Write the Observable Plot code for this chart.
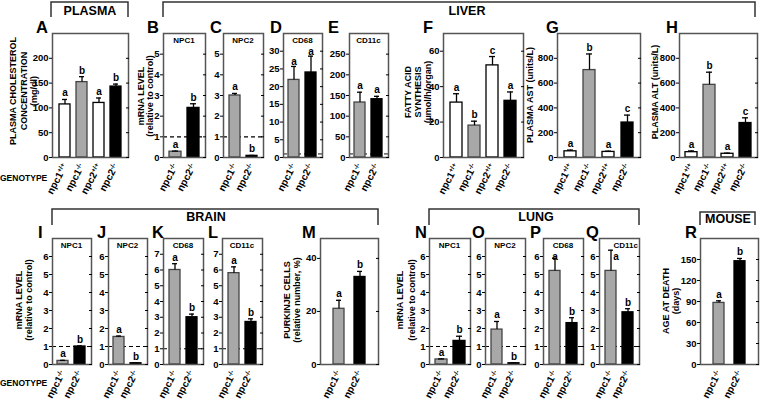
<!DOCTYPE html>
<html><head><meta charset="utf-8">
<script src="https://cdn.jsdelivr.net/npm/d3@7"></script>
<script src="https://cdn.jsdelivr.net/npm/@observablehq/plot@0.6"></script>
<style>
html,body{margin:0;padding:0;background:#fff;}
#chart{position:relative;width:760px;height:401px;overflow:hidden;font-family:"Liberation Sans",Arial,sans-serif;}
#chart svg.panel{position:absolute;overflow:visible;}
#overlay{position:absolute;left:0;top:0;overflow:visible;}
</style></head><body><div id="chart"></div>
<script>
// ---------- data ----------
const catsWT = ["npc1 +/+", "npc1 -/-", "npc2 +/+", "npc2 -/-"];
const catsKO = ["npc1 -/-", "npc2 -/-"];

const cholVals = [107, 152, 110, 143], cholErr = [10, 11, 10, 5], cholSig = ["a", "b", "a", "b"];
const livNpc1Vals = [0.28, 2.4], livNpc1Err = [0.03, 0.2], livNpc1Sig = ["a", "b"];
const livNpc2Vals = [3.0, 0.08], livNpc2Err = [0.1, 0.02], livNpc2Sig = ["a", "b"];
const livCd68Vals = [21.9, 24.0], livCd68Err = [3.8, 4.6], livCd68Sig = ["a", "a"];
const livCd11cVals = [133, 141], livCd11cErr = [25, 7], livCd11cSig = ["a", "a"];
const fasVals = [31, 18, 52, 32], fasErr = [5, 2.5, 5, 5], fasSig = ["a", "b", "c", "a"];
const astVals = [50, 705, 45, 282], astErr = [10, 130, 6, 60], astSig = ["a", "b", "a", "c"];
const altVals = [43, 586, 30, 278], altErr = [10, 102, 5, 42], altSig = ["a", "b", "a", "c"];
const brNpc1Vals = [0.2, 1.0], brNpc1Err = [0.03, 0.03], brNpc1Sig = ["a", "b"];
const brNpc2Vals = [1.53, 0.07], brNpc2Err = [0.05, 0.02], brNpc2Sig = ["a", "b"];
const brCd68Vals = [6.0, 3.0], brCd68Err = [0.4, 0.2], brCd68Sig = ["a", "b"];
const brCd11cVals = [5.8, 2.7], brCd11cErr = [0.4, 0.2], brCd11cSig = ["a", "b"];
const purkVals = [21, 33], purkErr = [3.2, 2.1], purkSig = ["a", "b"];
const luNpc1Vals = [0.28, 1.31], luNpc1Err = [0.03, 0.26], luNpc1Sig = ["a", "b"];
const luNpc2Vals = [1.94, 0.07], luNpc2Err = [0.45, 0.02], luNpc2Sig = ["a", "b"];
const luCd68Vals = [5.2, 2.3], luCd68Err = [0.7, 0.3], luCd68Sig = ["a", "b"];
const luCd11cVals = [5.2, 2.9], luCd11cErr = [1.15, 0.2], luCd11cSig = ["a", "b"];
const ageVals = [88, 147.5], ageErr = [3, 4], ageSig = ["a", "b"];

const ticksChol = [0, 50, 100, 150, 200];
const ticks0to5 = [0, 1, 2, 3, 4, 5];
const ticks0to6 = [0, 1, 2, 3, 4, 5, 6];
const ticks0to7 = [0, 1, 2, 3, 4, 5, 6, 7];
const ticksCd68 = [0, 5, 10, 15, 20, 25, 30];
const ticksCd11c = [0, 50, 100, 150, 200, 250];
const ticksFas = [0, 20, 40, 60];
const ticksEnz = [0, 200, 400, 600, 800];
const ticksPurk = [0, 20, 40];
const ticksAge = [0, 30, 60, 90, 120, 150];

// ---------- layout ----------
const FILL = {"npc1 +/+": "#ffffff", "npc1 -/-": "#a8a8a8", "npc2 +/+": "#ffffff", "npc2 -/-": "#000000"};
const TOP = [33, 157], BOT = [238, 364];

const panels = [
  {x: [52, 128], y: TOP, cats: catsWT, v: cholVals, e: cholErr, s: cholSig, domain: [0, 250], ticks: ticksChol},
  {x: [163, 205], y: TOP, cats: catsKO, v: livNpc1Vals, e: livNpc1Err, s: livNpc1Sig, domain: [0, 6], ticks: ticks0to5, ref: 1, gene: "NPC1"},
  {x: [223, 263], y: TOP, cats: catsKO, v: livNpc2Vals, e: livNpc2Err, s: livNpc2Sig, domain: [0, 6], ticks: ticks0to5, ref: 1, gene: "NPC2"},
  {x: [283, 322], y: TOP, cats: catsKO, v: livCd68Vals, e: livCd68Err, s: livCd68Sig, domain: [0, 35], ticks: ticksCd68, ref: 1, refGray: true, gene: "CD68", sigDy: -1},
  {x: [349, 388], y: TOP, cats: catsKO, v: livCd11cVals, e: livCd11cErr, s: livCd11cSig, domain: [0, 300], ticks: ticksCd11c, ref: 9, refGray: true, gene: "CD11c"},
  {x: [443, 523], y: TOP, cats: catsWT, v: fasVals, e: fasErr, s: fasSig, domain: [0, 70], ticks: ticksFas},
  {x: [557, 640], y: TOP, cats: catsWT, v: astVals, e: astErr, s: astSig, domain: [0, 1000], ticks: ticksEnz},
  {x: [679, 757], y: TOP, cats: catsWT, v: altVals, e: altErr, s: altSig, domain: [0, 1000], ticks: ticksEnz},
  {x: [52, 91], y: BOT, cats: catsKO, v: brNpc1Vals, e: brNpc1Err, s: brNpc1Sig, domain: [0, 7], ticks: ticks0to6, ref: 1, gene: "NPC1"},
  {x: [108, 147], y: BOT, cats: catsKO, v: brNpc2Vals, e: brNpc2Err, s: brNpc2Sig, domain: [0, 7], ticks: ticks0to6, ref: 1, gene: "NPC2"},
  {x: [163, 203], y: BOT, cats: catsKO, v: brCd68Vals, e: brCd68Err, s: brCd68Sig, domain: [0, 8], ticks: ticks0to7, ref: 1, gene: "CD68"},
  {x: [222, 262], y: BOT, cats: catsKO, v: brCd11cVals, e: brCd11cErr, s: brCd11cSig, domain: [0, 8], ticks: ticks0to7, ref: 1, gene: "CD11c"},
  {x: [320, 378], y: BOT, cats: catsKO, v: purkVals, e: purkErr, s: purkSig, domain: [0, 47.5], ticks: ticksPurk, pi: 0.48, po: 0.62},
  {x: [429, 470], y: BOT, cats: catsKO, v: luNpc1Vals, e: luNpc1Err, s: luNpc1Sig, domain: [0, 7], ticks: ticks0to6, ref: 1, gene: "NPC1"},
  {x: [485, 525], y: BOT, cats: catsKO, v: luNpc2Vals, e: luNpc2Err, s: luNpc2Sig, domain: [0, 7], ticks: ticks0to6, ref: 1, gene: "NPC2"},
  {x: [543, 583], y: BOT, cats: catsKO, v: luCd68Vals, e: luCd68Err, s: luCd68Sig, domain: [0, 7], ticks: ticks0to6, ref: 1, gene: "CD68", firstDy: 2},
  {x: [599, 639], y: BOT, cats: catsKO, v: luCd11cVals, e: luCd11cErr, s: luCd11cSig, domain: [0, 7], ticks: ticks0to6, ref: 1, gene: "CD11c", geneEnd: true, letterInside: true},
  {x: [700, 758], y: BOT, cats: catsKO, v: ageVals, e: ageErr, s: ageSig, domain: [0, 180], ticks: ticksAge, pi: 0.48, po: 0.62}
];

const chart = document.getElementById("chart");
const SVGNS = "http://www.w3.org/2000/svg";

function makePanel(p) {
  const ML = 34, MR = 8, MT = 10, MB = 50;
  const w = p.x[1] - p.x[0] + ML + MR, h = p.y[1] - p.y[0] + MT + MB;
  const data = p.cats.map((c, i) => ({cat: c, v: p.v[i], top: p.v[i] + p.e[i], sig: p.s[i], first: i === 0}));
  const sigDy = p.sigDy ?? -3;
  const txt = {x: "cat", y: "top", text: "sig", fontWeight: "bold", fontSize: 10};
  const marks = [];
  if (p.ref != null) marks.push(Plot.ruleY([p.ref], {stroke: p.refGray ? "#777" : "#000", strokeWidth: p.refGray ? 1.8 : 1.2, strokeDasharray: "4,3"}));
  marks.push(Plot.barY(data, {x: "cat", y: "v", fill: d => FILL[d.cat], stroke: d => d.cat === "npc1 -/-" ? "#444" : "#000", strokeWidth: 1.3}));
  marks.push(Plot.ruleX(data, {x: "cat", y1: "v", y2: "top", stroke: "#000", strokeWidth: 1.3}));
  marks.push(Plot.tickY(data, {x: "cat", y: "top", stroke: "#000", strokeWidth: 1.3, insetLeft: 3, insetRight: 3}));
  if (p.letterInside) {
    marks.push(Plot.text(data.filter(d => d.first), {...txt, dx: 5, dy: 3, lineAnchor: "top"}));
    marks.push(Plot.text(data.filter(d => !d.first), {...txt, dy: sigDy, lineAnchor: "bottom"}));
  } else if (p.firstDy != null) {
    marks.push(Plot.text(data.filter(d => d.first), {...txt, dy: p.firstDy, lineAnchor: "bottom"}));
    marks.push(Plot.text(data.filter(d => !d.first), {...txt, dy: sigDy, lineAnchor: "bottom"}));
  } else {
    marks.push(Plot.text(data, {...txt, dy: sigDy, lineAnchor: "bottom"}));
  }
  marks.push(Plot.frame({stroke: "#555", strokeWidth: 1.5}));
  marks.push(Plot.axisY({ticks: p.ticks, tickSize: 3, tickPadding: 1, tickFormat: d => String(d), fontWeight: "bold", fontSize: 9.5, label: null}));
  marks.push(Plot.axisY({anchor: "right", ticks: p.ticks, tickSize: 3, dx: -3, tickFormat: () => "", label: null}));
  marks.push(Plot.axisX({tickSize: 0, tickPadding: 7, tickRotate: -62, fontWeight: "bold", fontSize: 10, label: null}));
  const svg = Plot.plot({
    width: w, height: h, marginLeft: ML, marginRight: MR, marginTop: MT, marginBottom: MB,
    x: {type: "band", domain: p.cats, paddingInner: p.pi ?? 0.35, paddingOuter: p.po ?? 0.3, axis: null},
    y: {domain: p.domain, axis: null},
    style: {fontFamily: "'Liberation Sans', Arial, sans-serif", fontWeight: "bold", fontSize: "10px", overflow: "visible", background: "transparent"},
    marks
  });
  svg.classList.add("panel");
  svg.style.left = (p.x[0] - ML) + "px";
  svg.style.top = (p.y[0] - MT) + "px";
  svg.querySelectorAll('[aria-label="x-axis tick label"] text').forEach(t => {
    const parts = t.textContent.split(" ");
    if (parts.length < 2) return;
    t.textContent = parts[0];
    const ts = document.createElementNS(SVGNS, "tspan");
    ts.setAttribute("font-size", "6.5");
    ts.setAttribute("dy", "-0.5em");
    ts.textContent = parts[1];
    t.appendChild(ts);
  });
  chart.appendChild(svg);
}
panels.forEach(makePanel);

// ---------- annotations ----------
const ov = document.createElementNS(SVGNS, "svg");
ov.setAttribute("id", "overlay");
ov.setAttribute("width", 760);
ov.setAttribute("height", 401);
chart.appendChild(ov);
function addText(str, x, y, opts = {}) {
  const t = document.createElementNS(SVGNS, "text");
  t.setAttribute("x", x); t.setAttribute("y", y);
  t.setAttribute("font-family", "'Liberation Sans', Arial, sans-serif");
  t.setAttribute("font-weight", "bold");
  t.setAttribute("font-size", opts.size || 10);
  t.setAttribute("text-anchor", opts.anchor || "start");
  if (opts.central) t.setAttribute("dominant-baseline", "central");
  if (opts.rotate) t.setAttribute("transform", `rotate(-90 ${x} ${y})`);
  t.textContent = str;
  ov.appendChild(t);
}
function addPath(d) {
  const p = document.createElementNS(SVGNS, "path");
  p.setAttribute("d", d); p.setAttribute("fill", "none");
  p.setAttribute("stroke", "#333"); p.setAttribute("stroke-width", 1.5);
  ov.appendChild(p);
}
// brackets + headers
addPath("M51,17V2H128V17"); addText("PLASMA", 90, 14.5, {size: 12.5, anchor: "middle"});
addPath("M163,17V2H755V17"); addText("LIVER", 467, 15, {size: 12.5, anchor: "middle"});
addPath("M52,225V209H378V225"); addText("BRAIN", 206, 221, {size: 12.5, anchor: "middle"});
addPath("M429,225V209H639V225"); addText("LUNG", 536, 221, {size: 12.5, anchor: "middle"});
addPath("M700,225V212H755V225"); addText("MOUSE", 728, 223, {size: 12.5, anchor: "middle"});
// panel letters
const letters = [["A", 36, 33], ["B", 147, 33], ["C", 210, 33], ["D", 270, 33], ["E", 328, 33], ["F", 423, 33], ["G", 546, 33], ["H", 666, 33],
  ["I", 38, 238], ["J", 97, 238], ["K", 152, 238], ["L", 208, 238], ["M", 302, 238], ["N", 415, 238], ["O", 472, 238], ["P", 530, 238], ["Q", 586, 238], ["R", 685, 238]];
letters.forEach(([s, x, y]) => addText(s, x, y, {size: 16.5}));
// gene labels
panels.forEach(p => {
  if (!p.gene) return;
  if (p.geneEnd) addText(p.gene, p.x[1] - 1, p.y[0] + 7.5, {size: 8, anchor: "end", central: true});
  else addText(p.gene, (p.x[0] + p.x[1]) / 2, p.y[0] + 7.5, {size: 8, anchor: "middle", central: true});
});
// y labels
function ylab(lines, xs, cy) { lines.forEach((l, i) => addText(l, xs[i], cy, {size: 9, anchor: "middle", central: true, rotate: true})); }
ylab(["PLASMA CHOLESTEROL", "CONCENTRATION", "(mg/dl)"], [12.5, 23.5, 33.5], 91);
ylab(["mRNA LEVEL", "(relative to control)"], [140.5, 150], 96);
ylab(["FATTY ACID", "SYNTHESIS", "(µmol/h/organ)"], [407.5, 417.5, 428], 92);
ylab(["PLASMA AST (units/L)"], [529.5], 95);
ylab(["PLASMA ALT (units/L)"], [655], 92);
ylab(["mRNA LEVEL", "(relative to control)"], [18.5, 28.5], 300);
ylab(["PURKINJE CELLS", "(relative number, %)"], [286.5, 296.5], 300);
ylab(["mRNA LEVEL", "(relative to control)"], [400, 411.5], 300);
ylab(["AGE AT DEATH", "(days)"], [665.5, 675.5], 301);
addText("GENOTYPE", 0, 178, {size: 8.5, central: true});
addText("GENOTYPE", 0, 383, {size: 8.5, central: true});
</script></body></html>
